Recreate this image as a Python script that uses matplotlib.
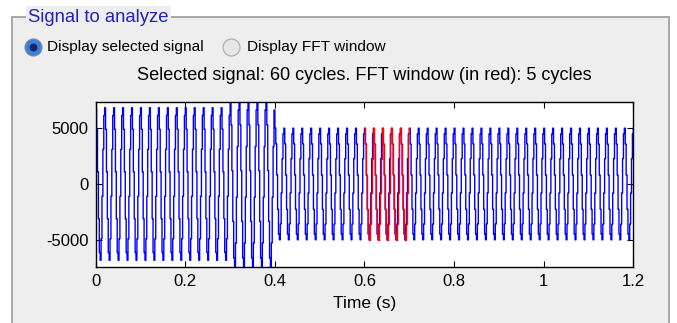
import numpy as np
import matplotlib
matplotlib.use("Agg")
import matplotlib.pyplot as plt
from matplotlib.patches import Rectangle

# ---------------- data ----------------
fundamental_hz = 50.0
n_cycles = 60
samples_per_cycle = 10
# one cycle of the sampled (zero-order-hold) waveform, normalised
cycle_profile = [0.99, 0.71, 0.16, -0.45, -0.89, -0.99, -0.71, -0.16, 0.45, 0.89]
# amplitude of the waveform in successive time segments
segment_edges = [0.0, 0.3, 0.4, 1.2]
segment_amplitude = [6900, 7450, 5050]
fft_window = [0.6, 0.7]
x_ticks = [0, 0.2, 0.4, 0.6, 0.8, 1.0, 1.2]
x_tick_labels = ["0", "0.2", "0.4", "0.6", "0.8", "1", "1.2"]
y_ticks = [-5000, 0, 5000]
y_limits = [-7437, 7320]

title_text = "Selected signal: 60 cycles. FFT window (in red): 5 cycles"
panel_title = "Signal to analyze"
radio_labels = ["Display selected signal", "Display FFT window"]

# ---------------- build samples ----------------
n_samples = n_cycles * samples_per_cycle
dt = 1.0 / fundamental_hz / samples_per_cycle
t = np.arange(n_samples + 1) * dt
seg_index = np.clip(np.searchsorted(segment_edges, t, side="right") - 1, 0, len(segment_amplitude) - 1)
amp = np.array(segment_amplitude, dtype=float)[seg_index]
prof = np.array(cycle_profile)[np.arange(n_samples + 1) % samples_per_cycle]
y = amp * prof

plt.rcParams["font.family"] = ["Liberation Sans", "DejaVu Sans"]
plt.rcParams["axes.unicode_minus"] = False

W, H = 677, 323
fig = plt.figure(figsize=(W / 100, H / 100), dpi=100)
fig.patch.set_facecolor("white")

# overlay axes in pixel coordinates for the GUI panel
ov = fig.add_axes([0, 0, 1, 1], zorder=0)
ov.set_xlim(0, W)
ov.set_ylim(H, 0)
ov.axis("off")
panel_bg = "#eeeeee"
ov.add_patch(Rectangle((12, 17), 657, 330, facecolor=panel_bg, edgecolor="#a0a0a0", lw=1.3))
ov.text(28, 17, panel_title, color="#2222bb", fontsize=13.3, va="center", ha="left",
        bbox=dict(facecolor=panel_bg, edgecolor="none", pad=1.5))
# radio buttons
ov.scatter([33], [47], s=150, c="#3d7fd6", edgecolors="#7a8aa0", linewidths=0.8, zorder=3)
ov.scatter([33], [47], s=22, c="#0b2a66", zorder=4)
ov.scatter([231], [47], s=150, c="#e6e6e6", edgecolors="#a8a8a8", linewidths=0.8, zorder=3)
ov.text(47, 47, radio_labels[0], fontsize=11.1, va="center", ha="left")
ov.text(247, 47, radio_labels[1], fontsize=11.1, va="center", ha="left")
ov.text(364.5, 75, title_text, fontsize=13.1, va="center", ha="center")

# main axes
left, right, top, bottom = 95.7, 633.3, 102.3, 267.0
ax = fig.add_axes([left / W, 1 - bottom / H, (right - left) / W, (bottom - top) / H], zorder=2)
ax.set_facecolor("white")
ax.plot(t, y, color="#0000ff", lw=1.0, drawstyle="steps-post")
m = (t >= fft_window[0] - 1e-9) & (t <= fft_window[1] + 1e-9)
ax.plot(t[m], y[m], color="#ff0000", lw=1.0, drawstyle="steps-post")
ax.set_xlim(0, 1.2)
ax.set_ylim(*y_limits)
ax.set_xticks(x_ticks)
ax.set_xticklabels(x_tick_labels)
ax.set_yticks(y_ticks)
ax.tick_params(direction="in", length=4, width=0.8, top=True, right=True, labelsize=12, pad=5)
for s in ax.spines.values():
    s.set_linewidth(1.0)
ax.set_xlabel("Time (s)", fontsize=12.5, labelpad=5)

fig.savefig("out.png", dpi=100, facecolor="white")
